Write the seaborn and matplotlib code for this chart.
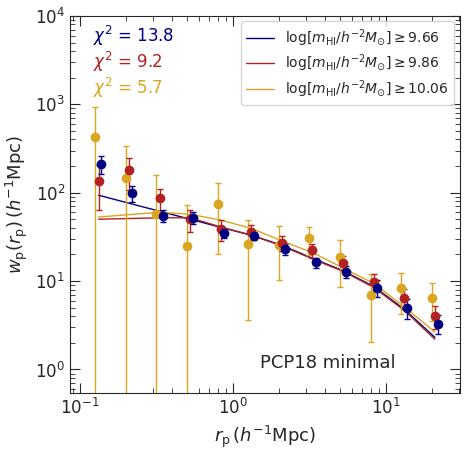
import matplotlib
matplotlib.use("Agg")
import matplotlib.pyplot as plt
import seaborn as sns
import pandas as pd

# projected separations of the three samples (slightly offset for clarity)
rp_c = [0.126, 0.200, 0.316, 0.500, 0.794, 1.26, 2.00, 3.16, 5.00, 7.94, 12.6, 20.0]
rp_b = [0.132, 0.209, 0.331, 0.524, 0.831, 1.32, 2.09, 3.31, 5.24, 8.31, 13.2, 20.9]
rp_a = [0.138, 0.219, 0.347, 0.548, 0.870, 1.38, 2.19, 3.47, 5.48, 8.70, 13.8, 21.9]

# measured w_p and errors
wp_a = [210, 98.7, 55.2, 52.4, 35.1, 32.4, 22.9, 16.3, 12.8, 8.43, 5.0, 3.3]
err_a = [49, 20, 8.5, 8.7, 4.0, 3.5, 3.2, 2.1, 2.1, 1.9, 1.3, 0.8]
wp_b = [134, 178.5, 86, 50.1, 38.6, 36.3, 27.0, 22.3, 16.2, 9.86, 6.5, 4.06]
err_b = [71, 70, 25, 14, 10.3, 7, 5.3, 4, 3, 2.2, 1.7, 1.2]
wp_c = [422, 145, 58.1, 24.8, 74.1, 26.6, 25.9, 30.5, 18.9, 7.02, 8.28, 6.5]
err_c = [508, 191, 100, 47, 54, 23, 15.6, 10.6, 10.4, 5.0, 4.0, 3.0]

# best-fit model curves
model_a = [93.7, 76, 61.7, 50.1, 40.6, 33, 25.4, 18.1, 13.1, 8.7, 4.79, 2.31]
model_b = [50.1, 51, 52, 52, 41, 33, 25.0, 17.8, 12.9, 8.5, 4.65, 2.2]
model_c = [53, 56.5, 60, 57, 49, 39.5, 28.4, 21, 14.1, 9.4, 5.1, 2.65]

labels = [r'$\log[m_{\rm HI}/h^{-2}M_{\odot}]\geq 9.66$',
          r'$\log[m_{\rm HI}/h^{-2}M_{\odot}]\geq 9.86$',
          r'$\log[m_{\rm HI}/h^{-2}M_{\odot}]\geq 10.06$']
chi2 = ["13.8", "9.2", "5.7"]
colors = ["navy", "firebrick", "goldenrod"]

sns.set_style("ticks")
plt.rcParams["font.family"] = ["DejaVu Sans"]
plt.rcParams["mathtext.fontset"] = "dejavusans"

fig = plt.figure(figsize=(4.67, 4.55), dpi=100)
ax = fig.add_axes([0.150, 0.136, 0.835, 0.829])

# ===============================
# model lines
# ===============================
models = pd.DataFrame({
    "rp": rp_b * 3,
    "wp": model_a + model_b + model_c,
    "sample": [labels[0]] * 12 + [labels[1]] * 12 + [labels[2]] * 12,
})
sns.lineplot(data=models, x="rp", y="wp", hue="sample", palette=colors,
             linewidth=1, ax=ax, legend=True)

# ===============================
# data points
# ===============================
for rp, wp, err, c in [(rp_c, wp_c, err_c, colors[2]),
                       (rp_b, wp_b, err_b, colors[1]),
                       (rp_a, wp_a, err_a, colors[0])]:
    ax.errorbar(rp, wp, yerr=err, fmt="o", color=c, ms=6, elinewidth=1,
                capsize=2, capthick=1)

ax.set_xscale("log")
ax.set_yscale("log")
ax.set_xlim(0.086, 30.5)
ax.set_ylim(0.54, 1e4)

ax.tick_params(which="both", direction="in", top=True, right=True, labelsize=12)
ax.tick_params(which="major", length=7)
ax.tick_params(which="minor", length=3.5)

ax.set_xlabel(r'$r_{\rm p}\,(h^{-1}{\rm Mpc})$', fontsize=13)
ax.set_ylabel(r'$w_{\rm p}(r_{\rm p})\,(h^{-1}{\rm Mpc})$', fontsize=13)

for i, (val, c) in enumerate(zip(chi2, colors)):
    ax.text(0.06, 0.947 - i * 0.069, r'$\chi^2$ = ' + val, color=c,
            fontsize=12, transform=ax.transAxes, va="center")

ax.text(0.66, 0.08, "PCP18 minimal", fontsize=13, ha="center", va="center",
        transform=ax.transAxes)

ax.legend(loc="upper right", fontsize=10, title=None, labelspacing=0.3,
          borderaxespad=0.4)

fig.savefig("out.png", dpi=100)
